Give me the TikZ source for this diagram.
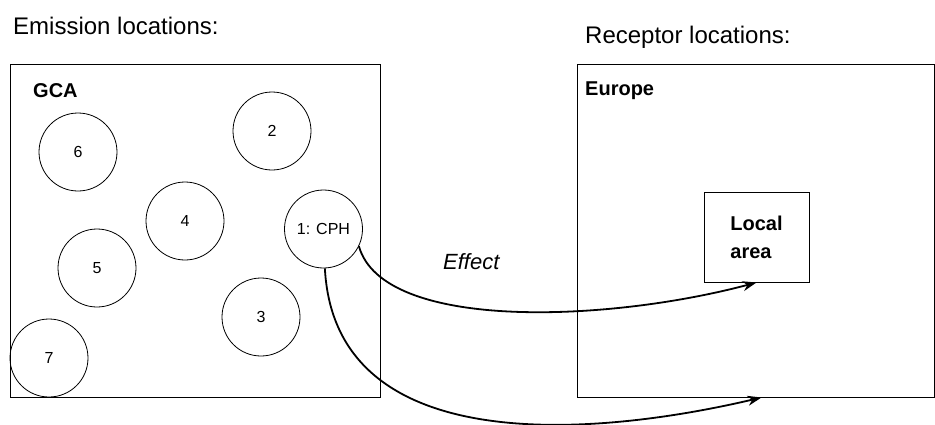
\documentclass[tikz,border=0pt]{standalone}
\usepackage{fontspec}
\setmainfont{Liberation Sans}
\usetikzlibrary{arrows.meta, positioning}
\tikzset{> = { Stealth[length = 14pt, width = 10pt] }}

\begin{document}
\begin{tikzpicture}[x = 1pt, y = -1pt,
		region/.style = { draw, line width = 1pt, inner sep = 0pt },
		site/.style = { draw, circle, line width = 0.8pt, minimum size = 78pt, inner sep = 0pt, font = \fontsize{16}{18}\selectfont },
		heading/.style = { anchor = base west, inner sep = 0pt, font = \fontsize{24}{28}\selectfont },
		areaname/.style = { anchor = base west, inner sep = 0pt, font = \fontsize{20}{24}\selectfont\bfseries },
		effect/.style = { ->, line width = 1.8pt }]
		\useasboundingbox (0,0) rectangle (935,424);

		\node [heading] (emission) at (13,34) {Emission locations:};
		\node [heading] (receptor) at (585,43) {Receptor locations:};

		\node [region, minimum width = 370pt, minimum height = 333pt] (gca) at (195,230.5) {};
		\node [region, minimum width = 357pt, minimum height = 333pt] (europe) at (755.5,230.5) {};
		\node [region, minimum width = 105pt, minimum height = 90pt, align = left, font = \fontsize{20}{28}\selectfont\bfseries] (local) at (756.5,237) {Local\\area};

		\node [areaname] (gcaname) at (33,97) {GCA};
		\node [areaname] (europename) at (585,95) {Europe};

		\node [site] (cph) at (323.5,229) {1: CPH};
		\node [site] (s2) at (272,131) {2};
		\node [site] (s3) at (261,317) {3};
		\node [site] (s4) at (185,221) {4};
		\node [site] (s5) at (97,268) {5};
		\node [site] (s6) at (78,152) {6};
		\node [site] (s7) at (49,358) {7};

		\node [anchor = base west, inner sep = 0pt, font = \fontsize{22}{26}\selectfont\itshape] (effectname) at (443,269) {Effect};

		\coordinate (landing) at ([xshift = 6pt]europe.south);

		\draw [effect] (cph.-26) .. controls +(24,85) and +(-150,40) .. (local.south);
		\draw [effect] (cph.-88) .. controls +(10,190) and +(-170,40) .. (landing);
	\end{tikzpicture}
\end{document}
